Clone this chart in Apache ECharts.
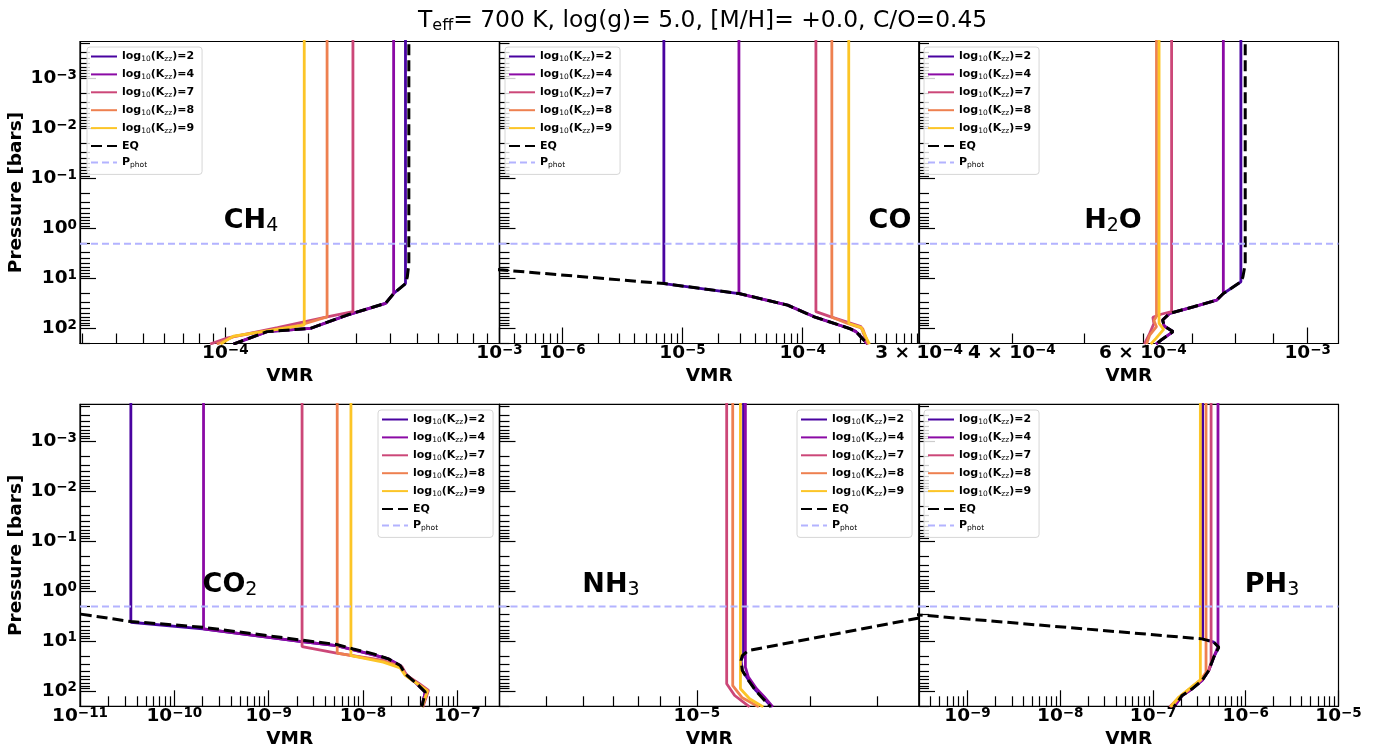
<!DOCTYPE html>
<html>
<head>
<meta charset="utf-8">
<script src="https://cdn.jsdelivr.net/npm/echarts@6/dist/echarts.min.js"></script>
<style>
  html, body { margin: 0; padding: 0; background: #fff; }
  #chart { width: 1385px; height: 753px; }
</style>
</head>
<body>
<div id="chart"></div>
<script>
// photosphere pressure [bar]
var P_PHOT = 2.05;
// pressure axis range [bar] (shared by every panel)
var P_RANGE = [1.84e-4, 204];
var P_TICKS = [1e-3, 1e-2, 1e-1, 1, 10, 100];

var KZZ_NAMES = ['log10(Kzz)=2', 'log10(Kzz)=4', 'log10(Kzz)=7', 'log10(Kzz)=8', 'log10(Kzz)=9'];
var KZZ_COLORS = ['#4903a0', '#8b0aa5', '#cc4778', '#ee8050', '#fcc527'];

// curves are [VMR, pressure] pairs
// ---- CH4
var ch4_k2 = [[4.54e-4,1e-4],[4.54e-4,12.9],[4.11e-4,20.4],[3.84e-4,32],[2.78e-4,55],[2.04e-4,102],[1.42e-4,118],[1.07e-4,210]];
var ch4_k4 = [[4.11e-4,1e-4],[4.11e-4,20.4],[3.84e-4,32],[2.78e-4,55],[2.04e-4,102],[1.42e-4,118],[1.07e-4,210]];
var ch4_k7 = [[2.92e-4,1e-4],[2.92e-4,47],[2.35e-4,60],[1.55e-4,98],[1.01e-4,160],[8.8e-5,210]];
var ch4_k8 = [[2.35e-4,1e-4],[2.35e-4,60],[1.88e-4,87],[1.07e-4,149],[9.3e-5,210]];
var ch4_k9 = [[1.94e-4,1e-4],[1.94e-4,87],[1.07e-4,145],[9.6e-5,210]];
var ch4_eq = [[4.67e-4,1e-4],[4.67e-4,5.2],[4.61e-4,9.5],[4.54e-4,12.9],[4.11e-4,20.4],[3.84e-4,32],[2.78e-4,55],[2.04e-4,102],[1.42e-4,118],[1.07e-4,210]];
// ---- CO
var co_k2 = [[7.0e-6,1e-4],[7.0e-6,12.9],[2.96e-5,20.4],[7.5e-5,34.8],[1.25e-4,59.6],[2.45e-4,102],[2.78e-4,118],[3.48e-4,210]];
var co_k4 = [[2.95e-5,1e-4],[2.95e-5,20.4],[7.5e-5,34.8],[1.25e-4,59.6],[2.45e-4,102],[2.78e-4,118],[3.48e-4,210]];
var co_k7 = [[1.29e-4,1e-4],[1.29e-4,47],[1.72e-4,59.6],[3.06e-4,94],[3.48e-4,210]];
var co_k8 = [[1.75e-4,1e-4],[1.75e-4,61],[2.37e-4,81],[3.16e-4,102],[3.52e-4,210]];
var co_k9 = [[2.42e-4,1e-4],[2.42e-4,81],[3.06e-4,97],[3.6e-4,210]];
var co_eq = [[1e-8,3.4],[2.97e-7,6.8],[7.04e-6,12.9],[2.96e-5,20.4],[7.5e-5,34.8],[1.25e-4,59.6],[2.45e-4,102],[2.78e-4,118],[3.48e-4,210]];
// ---- H2O
var h2o_k2 = [[8.13e-4,1e-4],[8.13e-4,11.9],[7.70e-4,20.4],[7.54e-4,27.7],[7.02e-4,37.6],[6.52e-4,51],[6.38e-4,69],[6.41e-4,91],[6.59e-4,118],[6.35e-4,174],[6.25e-4,210]];
var h2o_k4 = [[7.70e-4,1e-4],[7.70e-4,20.4],[7.54e-4,27.7],[7.02e-4,37.6],[6.52e-4,51],[6.38e-4,69],[6.41e-4,91],[6.59e-4,118],[6.35e-4,174],[6.25e-4,210]];
var h2o_k7 = [[6.56e-4,1e-4],[6.56e-4,47],[6.35e-4,53],[6.19e-4,61],[6.21e-4,81],[6.13e-4,128],[6.03e-4,210]];
var h2o_k8 = [[6.26e-4,1e-4],[6.26e-4,58],[6.21e-4,71],[6.26e-4,94],[6.13e-4,138],[6.07e-4,210]];
var h2o_k9 = [[6.31e-4,1e-4],[6.31e-4,81],[6.40e-4,106],[6.25e-4,161],[6.15e-4,210]];
var h2o_eq = [[8.24e-4,1e-4],[8.24e-4,5.2],[8.18e-4,9.5],[8.13e-4,11.9],[7.70e-4,20.4],[7.54e-4,27.7],[7.02e-4,37.6],[6.52e-4,51],[6.38e-4,69],[6.41e-4,91],[6.59e-4,118],[6.35e-4,174],[6.25e-4,210]];
// ---- CO2
var co2_k2 = [[3.46e-11,1e-4],[3.46e-11,4.24],[2.0e-10,5.75],[2.14e-9,10.2],[5.25e-9,12.4],[1.29e-8,19],[1.86e-8,22.9],[2.48e-8,31.1],[2.80e-8,45.7],[3.72e-8,72],[4.57e-8,106],[4.21e-8,210]];
var co2_k4 = [[2.04e-10,1e-4],[2.04e-10,5.75],[2.14e-9,10.2],[5.25e-9,12.4],[1.29e-8,19],[1.86e-8,22.9],[2.48e-8,31.1],[2.80e-8,45.7],[3.72e-8,72],[4.57e-8,106],[4.21e-8,210]];
var co2_k7 = [[2.26e-9,1e-4],[2.26e-9,13.0],[5.25e-9,17.6],[1.64e-8,24.7],[2.58e-8,32.6],[2.91e-8,49],[3.88e-8,70],[4.95e-8,98],[4.31e-8,210]];
var co2_k8 = [[5.33e-9,1e-4],[5.33e-9,17.6],[7.57e-9,19.7],[1.64e-8,25.5],[2.48e-8,32.6],[2.85e-8,49],[3.8e-8,72],[4.83e-8,100],[4.25e-8,210]];
var co2_k9 = [[7.45e-9,1e-4],[7.45e-9,19.7],[1.64e-8,26.7],[2.48e-8,34.7],[2.80e-8,49],[3.88e-8,75],[4.83e-8,100],[4.21e-8,210]];
var co2_eq = [[3.2e-12,2.1],[9.75e-12,2.88],[3.46e-11,4.1],[2.0e-10,5.33],[2.14e-9,9.55],[5.25e-9,11.8],[7.89e-9,14.5],[1.29e-8,18.2],[1.86e-8,22.9],[2.48e-8,31.1],[2.80e-8,45.7],[3.72e-8,72],[4.57e-8,106],[4.21e-8,210]];
// ---- NH3
var nh3_k2 = [[1.33e-5,1e-4],[1.33e-5,19],[1.31e-5,24.7],[1.32e-5,39.2],[1.37e-5,60],[1.43e-5,96],[1.50e-5,138],[1.58e-5,210]];
var nh3_k4 = [[1.345e-5,1e-4],[1.345e-5,33.6],[1.37e-5,53],[1.44e-5,91],[1.51e-5,133],[1.59e-5,210]];
var nh3_k7 = [[1.20e-5,1e-4],[1.20e-5,72],[1.26e-5,124],[1.38e-5,210]];
var nh3_k8 = [[1.245e-5,1e-4],[1.245e-5,79],[1.32e-5,138],[1.46e-5,210]];
var nh3_k9 = [[1.305e-5,1e-4],[1.305e-5,91],[1.38e-5,144],[1.50e-5,210]];
var nh3_eq = [[7.6e-5,1.32],[3.89e-5,3.47],[1.37e-5,15.6],[1.32e-5,19.7],[1.31e-5,24.7],[1.32e-5,39.2],[1.37e-5,62],[1.43e-5,98],[1.49e-5,138],[1.57e-5,210]];
// ---- PH3
var ph3_k2 = [[3.43e-7,1e-4],[3.43e-7,9.12],[4.52e-7,10.6],[5.12e-7,13.4],[4.52e-7,21.2],[3.99e-7,39.2],[3.38e-7,62],[2.64e-7,91],[2.06e-7,124],[1.68e-7,210]];
var ph3_k4 = [[5.02e-7,1e-4],[5.02e-7,13.0],[4.52e-7,21.2],[3.99e-7,39.2],[3.38e-7,62],[2.64e-7,91],[2.06e-7,124],[1.68e-7,210]];
var ph3_k7 = [[4.23e-7,1e-4],[4.23e-7,26.7],[3.99e-7,39.2],[3.24e-7,62],[1.90e-7,138],[1.51e-7,210]];
var ph3_k8 = [[3.73e-7,1e-4],[3.73e-7,42.4],[3.24e-7,62],[1.95e-7,133],[1.56e-7,210]];
var ph3_k9 = [[3.24e-7,1e-4],[3.24e-7,60],[1.90e-7,133],[1.54e-7,210]];
var ph3_eq = [[2.33e-11,2.0],[3.02e-10,3.02],[3.38e-7,9.12],[4.52e-7,10.6],[5.12e-7,13.4],[4.52e-7,21.2],[3.99e-7,39.2],[3.38e-7,62],[2.64e-7,91],[2.06e-7,124],[1.68e-7,210]];

// x axis ranges and labelled ticks
var ch4_x = [2.95e-5, 1e-3],  ch4_labels = [1e-4, 1e-3];
var co_x  = [3.0e-7, 9.3e-4], co_labels  = [1e-6, 1e-5, 1e-4];
var h2o_x = [3.0e-4, 1.1e-3], h2o_labels = [3e-4, 4e-4, 6e-4, 1e-3];
var co2_x = [1e-11, 2.8e-7],  co2_labels = [1e-11, 1e-10, 1e-9, 1e-8, 1e-7];
var nh3_x = [3.0e-6, 3.88e-5], nh3_labels = [1e-5];
var ph3_x = [3.0e-10, 1e-5],  ph3_labels = [1e-9, 1e-8, 1e-7, 1e-6, 1e-5];

var FONT = 'DejaVu Sans';

var panels = [
  {curves: [ch4_k2, ch4_k4, ch4_k7, ch4_k8, ch4_k9], eq: ch4_eq, x: ch4_x, labels: ch4_labels,
   main: 'CH', sub: '4', lx: 251, ly: 221, legend: {left: 87, top: 47}},
  {curves: [co_k2, co_k4, co_k7, co_k8, co_k9], eq: co_eq, x: co_x, labels: co_labels,
   main: 'CO', sub: '', lx: 890, ly: 221, legend: {left: 505, top: 47}},
  {curves: [h2o_k2, h2o_k4, h2o_k7, h2o_k8, h2o_k9], eq: h2o_eq, x: h2o_x, labels: h2o_labels,
   main: 'H', sub: '2', tail: 'O', lx: 1113, ly: 221, legend: {left: 924, top: 47}},
  {curves: [co2_k2, co2_k4, co2_k7, co2_k8, co2_k9], eq: co2_eq, x: co2_x, labels: co2_labels,
   main: 'CO', sub: '2', lx: 230, ly: 585, legend: {left: 378, top: 410}},
  {curves: [nh3_k2, nh3_k4, nh3_k7, nh3_k8, nh3_k9], eq: nh3_eq, x: nh3_x, labels: nh3_labels,
   main: 'NH', sub: '3', lx: 611, ly: 585, legend: {left: 797, top: 410}},
  {curves: [ph3_k2, ph3_k4, ph3_k7, ph3_k8, ph3_k9], eq: ph3_eq, x: ph3_x, labels: ph3_labels,
   main: 'PH', sub: '3', lx: 1272, ly: 585, legend: {left: 924, top: 410}}
];

var colLeft = [80, 499.5, 919];
var rowTop = [41.5, 404.3];
var gridW = 419.5, gridH = 302;

function sciLabel(v) {
  var e = Math.floor(Math.log10(v) + 1e-9);
  var m = Math.round(v / Math.pow(10, e));
  var ex = (e < 0 ? '\u2212' : '') + Math.abs(e);
  return (m === 1 ? '{b|10}' : '{b|' + m + ' \u00d7 10}') + '{sup|' + ex + '}';
}
function majorTicks(r) {
  var out = [];
  for (var d = Math.floor(Math.log10(r[0])); d <= Math.ceil(Math.log10(r[1])); d++) {
    var v = Math.pow(10, d);
    if (v >= r[0] * 0.999 && v <= r[1] * 1.001) out.push(v);
  }
  return out;
}
function minorTicks(r) {
  var out = [];
  for (var d = Math.floor(Math.log10(r[0])); d <= Math.ceil(Math.log10(r[1])); d++) {
    for (var k = 2; k <= 9; k++) {
      var v = k * Math.pow(10, d);
      if (v > r[0] * 1.001 && v < r[1] * 0.999) out.push(v);
    }
  }
  return out;
}

var tickRich = {
  b: {fontFamily: FONT, fontWeight: 'bold', fontSize: 18.5, lineHeight: 20, color: '#000'},
  sup: {fontFamily: FONT, fontWeight: 'bold', fontSize: 13.5, lineHeight: 12, verticalAlign: 'top', color: '#000'}
};
var tickLine = {color: '#000', width: 1.2};

var grids = [], xAxes = [], yAxes = [], series = [], legends = [], graphics = [];

panels.forEach(function (p, i) {
  var row = Math.floor(i / 3), col = i % 3;
  grids.push({left: colLeft[col], top: rowTop[row], width: gridW, height: gridH,
    show: true, borderColor: '#000', borderWidth: 1.2, outerBoundsMode: 'none'});

  xAxes.push({
    type: 'log', gridIndex: i, position: 'bottom', min: p.x[0], max: p.x[1],
    axisLine: {show: true, lineStyle: tickLine},
    axisTick: {show: true, inside: true, length: 16, customValues: majorTicks(p.x), lineStyle: tickLine},
    axisLabel: {show: true, customValues: p.labels, formatter: sciLabel, margin: 0, rich: tickRich},
    splitLine: {show: false},
    name: 'VMR', nameLocation: 'middle', nameGap: 23,
    nameTextStyle: {fontFamily: FONT, fontWeight: 'bold', fontSize: 18.5, lineHeight: 20, color: '#000'}
  });
  xAxes.push({
    type: 'log', gridIndex: i, position: 'bottom', min: p.x[0], max: p.x[1],
    axisLine: {show: false},
    axisTick: {show: true, inside: true, length: 10, customValues: minorTicks(p.x), lineStyle: tickLine},
    axisLabel: {show: false}, splitLine: {show: false}
  });
  yAxes.push({
    type: 'log', gridIndex: i, position: 'left', inverse: true, min: P_RANGE[0], max: P_RANGE[1],
    axisLine: {show: true, lineStyle: tickLine},
    axisTick: {show: true, inside: true, length: 16, customValues: P_TICKS, lineStyle: tickLine},
    axisLabel: {show: col === 0, customValues: P_TICKS, formatter: sciLabel, margin: 3, rich: tickRich},
    splitLine: {show: false},
    name: col === 0 ? 'Pressure [bars]' : '', nameLocation: 'middle', nameGap: 52, nameRotate: 90,
    nameTextStyle: {fontFamily: FONT, fontWeight: 'bold', fontSize: 18.5, lineHeight: 20, color: '#000'}
  });
  yAxes.push({
    type: 'log', gridIndex: i, position: 'left', inverse: true, min: P_RANGE[0], max: P_RANGE[1],
    axisLine: {show: false},
    axisTick: {show: true, inside: true, length: 10, customValues: minorTicks(P_RANGE), lineStyle: tickLine},
    axisLabel: {show: false}, splitLine: {show: false}
  });

  p.curves.forEach(function (c, k) {
    series.push({
      type: 'line', name: KZZ_NAMES[k], xAxisIndex: 2 * i, yAxisIndex: 2 * i, data: c,
      symbol: 'none', lineStyle: {color: KZZ_COLORS[k], width: 2.8}, itemStyle: {color: KZZ_COLORS[k]},
      animation: false, silent: true
    });
  });
  series.push({
    type: 'line', name: 'EQ', xAxisIndex: 2 * i, yAxisIndex: 2 * i, data: p.eq,
    symbol: 'none', lineStyle: {color: '#000', width: 3, type: [11, 5]}, itemStyle: {color: '#000'},
    animation: false, silent: true
  });
  series.push({
    type: 'line', name: 'Pphot', xAxisIndex: 2 * i, yAxisIndex: 2 * i,
    data: [[p.x[0], P_PHOT], [p.x[1], P_PHOT]],
    symbol: 'none', lineStyle: {color: '#b3b3ff', width: 2, type: [7, 4]}, itemStyle: {color: '#b3b3ff'},
    animation: false, silent: true
  });

  legends.push({
    orient: 'vertical', left: p.legend.left, top: p.legend.top,
    data: KZZ_NAMES.concat(['EQ', 'Pphot']), selectedMode: false,
    itemWidth: 26, itemHeight: 2, itemGap: 5.4, padding: [4, 8, 5, 3],
    itemStyle: {opacity: 0},
    backgroundColor: 'rgba(255,255,255,0.8)', borderColor: '#d6d6d6', borderWidth: 1, borderRadius: 3,
    formatter: function (name) {
      if (name === 'EQ') return '{b|EQ}';
      if (name === 'Pphot') return '{b|P}{s|phot}';
      return '{b|log}{s|10}{b|(K}{s|zz}{b|)=' + name.split('=')[1] + '}';
    },
    textStyle: {
      rich: {
        b: {fontFamily: FONT, fontWeight: 'bold', fontSize: 11, lineHeight: 14, color: '#000'},
        s: {fontFamily: FONT, fontSize: 7.5, lineHeight: 8, verticalAlign: 'bottom', color: '#000'}
      }
    }
  });

  graphics.push({
    type: 'text', x: p.lx, y: p.ly, z: 50,
    style: {
      text: '{m|' + p.main + '}' + (p.sub ? '{s|' + p.sub + '}' : '') + (p.tail ? '{m|' + p.tail + '}' : ''),
      align: 'center', verticalAlign: 'middle',
      rich: {
        m: {fontFamily: FONT, fontWeight: 'bold', fontSize: 27, lineHeight: 30, fill: '#000'},
        s: {fontFamily: FONT, fontSize: 19, lineHeight: 19, verticalAlign: 'bottom', fill: '#000'}
      }
    }
  });
});

var chart = echarts.init(document.getElementById('chart'), null, {renderer: 'canvas'});
chart.setOption({
  animation: false,
  backgroundColor: '#fff',
  title: {
    left: 413, top: 3,
    text: '{n|T}{s|eff}{n|= 700 K, log(g)= 5.0, [M/H]= +0.0, C/O=0.45}',
    textStyle: {
      fontWeight: 'normal',
      rich: {
        n: {fontFamily: FONT, fontWeight: 'normal', fontSize: 23.4, lineHeight: 26, color: '#000'},
        s: {fontFamily: FONT, fontWeight: 'normal', fontSize: 16, lineHeight: 14, verticalAlign: 'bottom', color: '#000'}
      }
    }
  },
  grid: grids,
  xAxis: xAxes,
  yAxis: yAxes,
  legend: legends,
  graphic: graphics,
  series: series
});
</script>
</body>
</html>
